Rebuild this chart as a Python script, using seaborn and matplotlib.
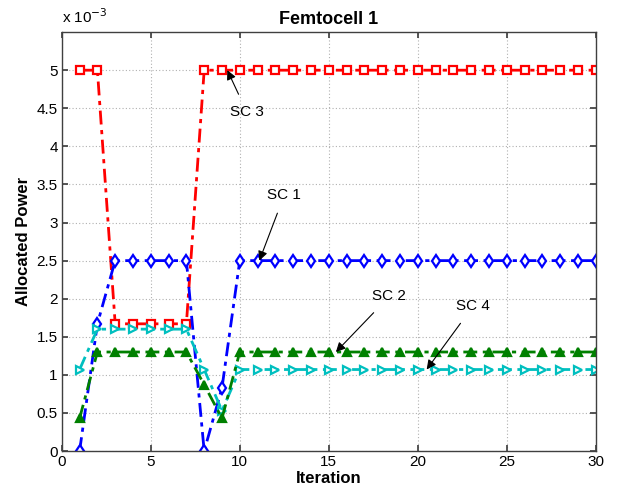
import numpy as np
import pandas as pd
import seaborn as sns
import matplotlib
matplotlib.use("Agg")
import matplotlib.pyplot as plt
from matplotlib.ticker import FuncFormatter

iterations = list(range(1, 31))
sc1 = [0.0, 1.67] + [2.5] * 5 + [0.0, 0.83] + [2.5] * 21
sc2 = [0.43] + [1.3] * 6 + [0.87, 0.43] + [1.3] * 21
sc3 = [5.0, 5.0] + [1.67] * 5 + [5.0] * 23
sc4 = [1.07] + [1.6] * 6 + [1.07, 0.53] + [1.07] * 21
series_names = ["SC 1", "SC 2", "SC 3", "SC 4"]
series_values = [sc1, sc2, sc3, sc4]
x_ticks = [0, 5, 10, 15, 20, 25, 30]
y_ticks = [0, 0.5, 1, 1.5, 2, 2.5, 3, 3.5, 4, 4.5, 5]

styles = {
    "SC 1": dict(color=(0, 0, 1), marker="d"),
    "SC 2": dict(color=(0, 0.5, 0), marker="^"),
    "SC 3": dict(color=(1, 0, 0), marker="s"),
    "SC 4": dict(color=(0, 0.75, 0.75), marker=">"),
}

sns.set_theme(style="whitegrid")
plt.rcParams["font.family"] = ["Liberation Sans", "DejaVu Sans"]
plt.rcParams["text.color"] = "black"
plt.rcParams["axes.labelcolor"] = "black"
plt.rcParams["xtick.color"] = "black"
plt.rcParams["ytick.color"] = "black"

fig = plt.figure(figsize=(6.18, 4.94), dpi=100)
ax = fig.add_axes([0.100, 0.087, 0.864, 0.848])

order = ["SC 3", "SC 1", "SC 4", "SC 2"]
for name in order:
    vals = np.array(series_values[series_names.index(name)]) * 1e-3
    df = pd.DataFrame({"Iteration": iterations, "Power": vals})
    st = styles[name]
    sns.lineplot(data=df, x="Iteration", y="Power", ax=ax, color=st["color"],
                 marker=st["marker"], markersize=6, markeredgewidth=1.6,
                 markerfacecolor="white" if name != "SC 2" else st["color"],
                 markeredgecolor=st["color"], linewidth=2,
                 dashes=False, linestyle=(0, (5, 2, 1.5, 2)))

ax.set_xlim(0, 30)
ax.set_ylim(0, 5.5e-3)
ax.set_xticks(x_ticks)
ax.set_yticks([v * 1e-3 for v in y_ticks])
ax.yaxis.set_major_formatter(FuncFormatter(lambda v, p: "%g" % round(v * 1e3, 4)))
ax.xaxis.set_major_formatter(FuncFormatter(lambda v, p: "%g" % v))

ax.grid(True, color="#b0b0b0", linestyle=(0, (1, 2)), linewidth=0.8)
ax.set_facecolor("white")
for s in ax.spines.values():
    s.set_color("#404040")
    s.set_linewidth(1.0)
ax.tick_params(axis="both", labelsize=11, labelcolor="black", colors="#404040",
               direction="in", length=4, left=True, bottom=True, right=True,
               top=True, pad=3)

ax.set_xlabel("Iteration", fontsize=12, fontweight="bold", labelpad=1, color="black")
ax.set_ylabel("Allocated Power", fontsize=12, fontweight="bold", labelpad=4, color="black")
ax.set_title("Femtocell 1", fontsize=13, fontweight="bold", pad=6, color="black")
ax.text(0.0, 1.015, r"x 10$^{-3}$", transform=ax.transAxes, fontsize=11,
        ha="left", va="bottom", color="black")

ann = [
    ("SC 3", 9.3, 5.0, 10.4, 4.45),
    ("SC 1", 11.1, 2.5, 12.5, 3.36),
    ("SC 2", 15.4, 1.3, 18.4, 2.03),
    ("SC 4", 20.5, 1.07, 23.1, 1.90),
]
for label, xt, yt, xx, yy in ann:
    ax.annotate(label, xy=(xt, yt * 1e-3), xytext=(xx, yy * 1e-3),
                fontsize=11, ha="center", va="center", color="black",
                arrowprops=dict(arrowstyle="-|>", color="black", lw=0.8,
                                shrinkA=6, shrinkB=0, mutation_scale=14))

fig.savefig("out.png", dpi=100)
